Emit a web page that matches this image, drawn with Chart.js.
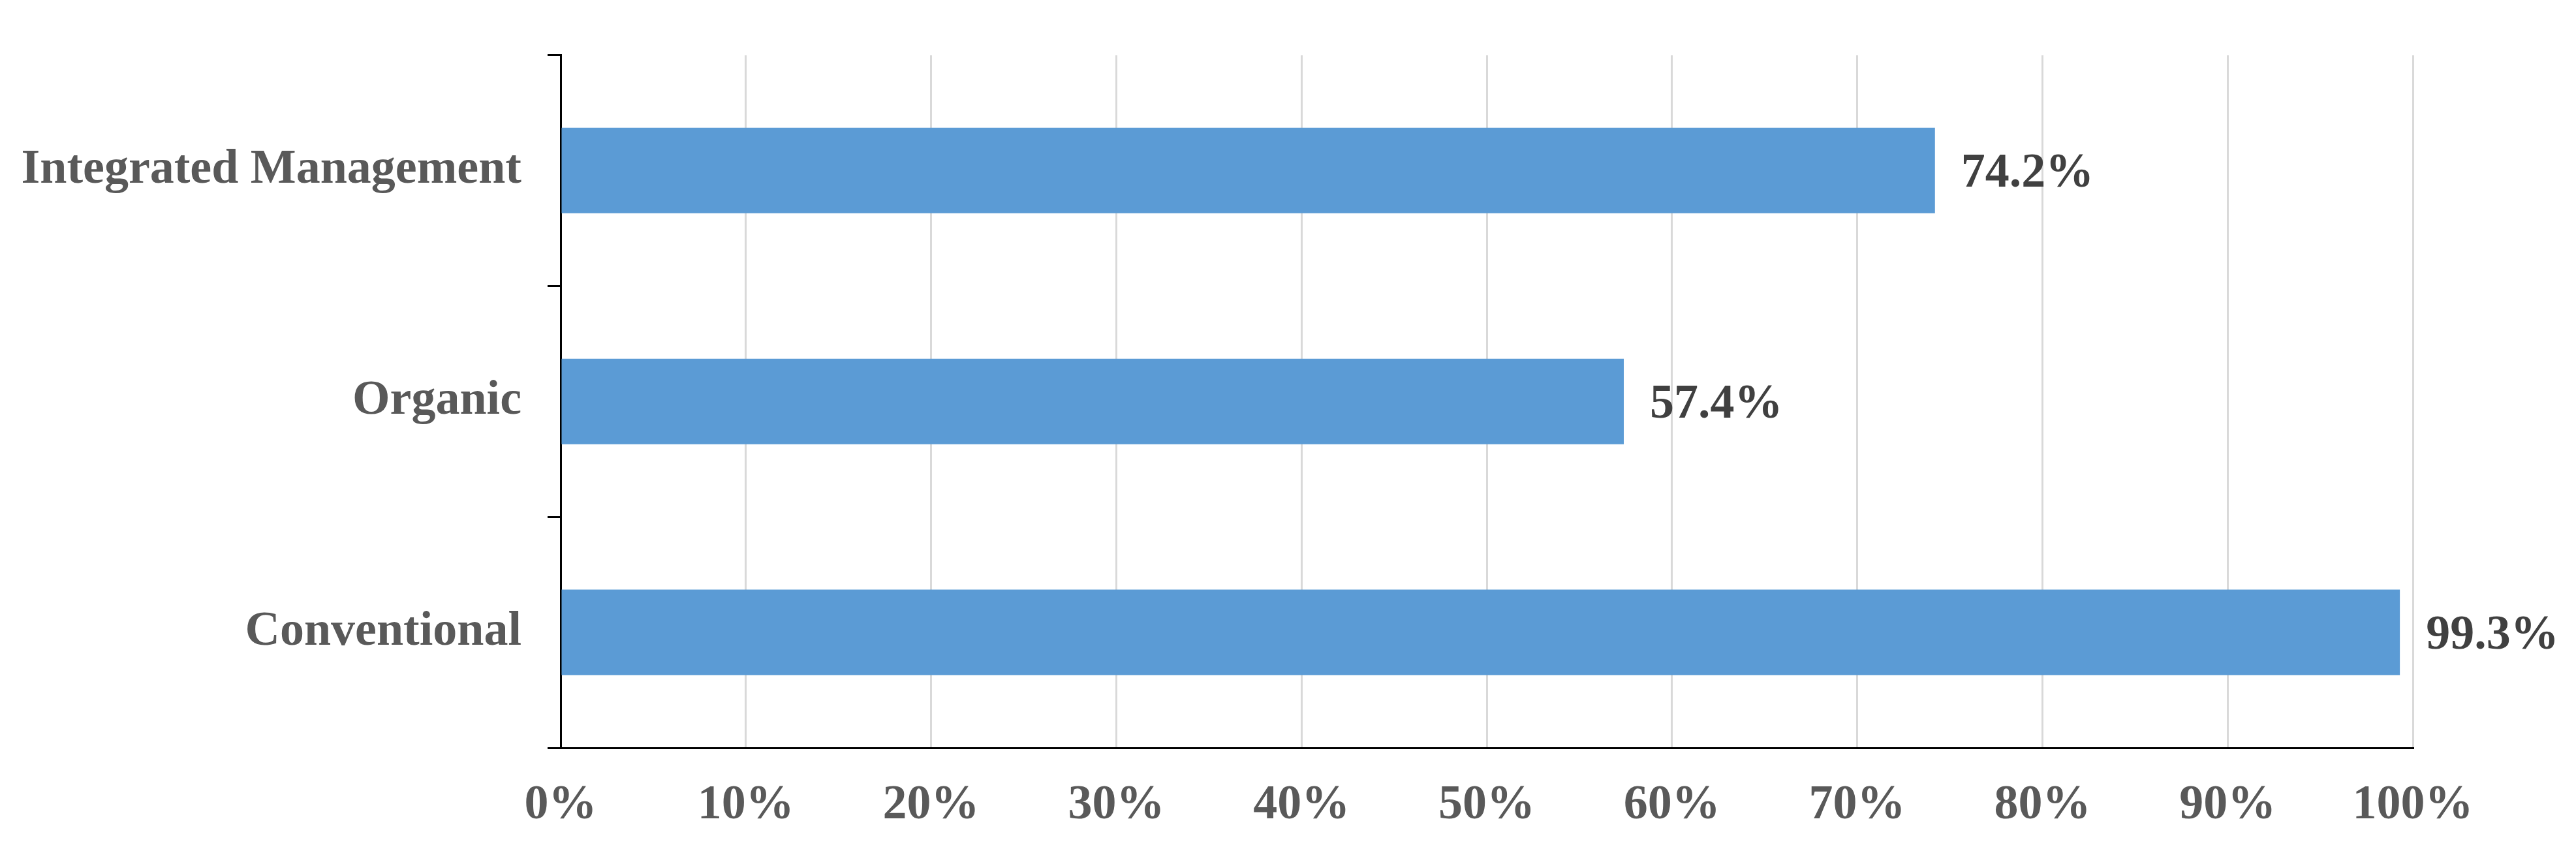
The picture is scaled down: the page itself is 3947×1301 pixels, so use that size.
<!DOCTYPE html>
<html lang="en">
<head>
    <meta charset="UTF-8">
    <title>Chart</title>
    <script src="https://cdn.jsdelivr.net/npm/chart.js"></script>
    <style>
        html, body { margin: 0; padding: 0; background: #fff; }
        #wrap { width: 3947px; height: 1301px; }
    </style>
</head>
<body>
<div id="wrap"><canvas id="chart"></canvas></div>
<script>
    const categories = ['Integrated Management', 'Organic', 'Conventional'];
    const values = [74.2, 57.4, 99.3];
    const xTicks = [0, 10, 20, 30, 40, 50, 60, 70, 80, 90, 100];

    const font = { family: '"Liberation Serif", "Times New Roman", serif', size: 74, weight: 'bold' };

    // value labels at the end of each bar
    const barLabels = {
        id: 'barLabels',
        afterDatasetsDraw(chart) {
            const ctx = chart.ctx;
            const meta = chart.getDatasetMeta(0);
            ctx.save();
            ctx.font = 'bold 74px "Liberation Serif", serif';
            ctx.fillStyle = '#404040';
            ctx.textBaseline = 'middle';
            meta.data.forEach((bar, i) => {
                ctx.fillText(values[i].toFixed(1) + '%', bar.x + 40, bar.y + 6);
            });
            ctx.restore();
        }
    };

    new Chart(document.getElementById('chart'), {
        type: 'bar',
        data: {
            labels: categories,
            datasets: [{
                data: values,
                backgroundColor: '#5b9bd5',
                barPercentage: 0.37,
                categoryPercentage: 1
            }]
        },
        plugins: [barLabels],
        options: {
            indexAxis: 'y',
            responsive: true,
            maintainAspectRatio: false,
            animation: false,
            layout: { padding: { top: 13, right: 250, left: 0, bottom: 0 } },
            plugins: { legend: { display: false }, tooltip: { enabled: false } },
            scales: {
                x: {
                    min: 0, max: 100,
                    afterBuildTicks(axis) { axis.ticks = xTicks.map(v => ({ value: v })); },
                    afterFit(axis) { axis.height = 155; },
                    grid: { color: '#d9d9d9', lineWidth: 3, tickLength: 0, drawTicks: false },
                    border: { color: '#000', width: 3 },
                    ticks: {
                        color: '#595959', font: font, padding: 44,
                        callback: v => v + '%'
                    }
                },
                y: {
                    afterFit(axis) { axis.width = 859; },
                    grid: { drawOnChartArea: false, color: '#000', lineWidth: 3, tickLength: 20, offset: true },
                    border: { color: '#000', width: 3 },
                    ticks: { color: '#595959', font: font, padding: 40 }
                }
            }
        }
    });
</script>
</body>
</html>
